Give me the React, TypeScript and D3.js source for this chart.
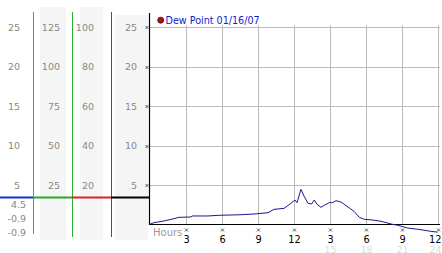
import React from "react";
import * as d3 from "d3";

const hours = [0.02, 0.33, 1.17, 2.0, 2.42, 3.42, 3.5, 4.83, 5.67, 7.58, 8.67, 9.83, 10.33, 11.17, 11.75, 12.08, 12.25, 12.58, 12.83, 13.17, 13.47, 13.69, 13.92, 14.25, 14.53, 14.94, 15.22, 15.5, 15.92, 16.61, 17.03, 17.44, 17.86, 18.56, 19.25, 20.08, 20.64, 21.47, 22.31, 23.42, 23.97];
const dewPoint = [0.13, 0.29, 0.51, 0.8, 0.97, 1.01, 1.14, 1.14, 1.22, 1.3, 1.39, 1.55, 1.98, 2.1, 2.74, 3.16, 2.82, 4.5, 3.66, 2.74, 2.65, 3.16, 2.61, 2.23, 2.49, 2.82, 2.82, 3.07, 2.9, 2.15, 1.69, 0.97, 0.72, 0.63, 0.47, 0.13, -0.04, -0.38, -0.54, -0.8, -0.9];

const yTicks = [25, 20, 15, 10, 5];
const col1Labels = ["25", "20", "15", "10", "5"];
const col2Labels = ["125", "100", "75", "50", "25"];
const col3Labels = ["100", "80", "60", "40", "20"];
const col4Labels = ["25", "20", "15", "10", "5"];
const statLabels = ["4.5", "-0.9", "-0.9"];
const markerValue = 3.57;

const xTicks = [3, 6, 9, 12, 15, 18, 21, 24];
const xLabels = ["3", "6", "9", "12", "3", "6", "9", "12"];
const xSubTicks = [15, 18, 21, 24];
const xSubLabels = ["15", "18", "21", "24"];

const legendLabel = "Dew Point 01/16/07";

const FONT = "'DejaVu Sans', Verdana, sans-serif";

function Cross({ x, y }: { x: number; y: number }) {
  return (
    <g stroke="#333" strokeWidth={0.8}>
      <line x1={x - 1.5} y1={y - 1.5} x2={x + 1.5} y2={y + 1.5} />
      <line x1={x - 1.5} y1={y + 1.5} x2={x + 1.5} y2={y - 1.5} />
    </g>
  );
}

export default function App() {
  const x = d3.scaleLinear().domain([0, 24]).range([150, 438]);
  const y = d3.scaleLinear().domain([0, 25]).range([225, 27]);
  const line = d3
    .line<number>()
    .x((_, i) => x(hours[i]))
    .y((d) => y(d));
  const markY = Math.round(y(markerValue)) + 0.5;
  const labelColor = "#888";
  const lastX = (h: number) => (h === 24 ? 441.5 : x(h) + 0.5);
  const anchor = (h: number) => (h === 24 ? "end" : "middle");

  return (
    <svg
      width={442}
      height={253}
      style={{ position: "fixed", left: 0, top: 0, background: "#fff" }}
      fontFamily={FONT}
    >
      <rect x={0} y={0} width={442} height={253} fill="#fff" />
      {/* gray column backgrounds */}
      <rect x={40} y={7} width={26} height={233} fill="#f5f5f5" />
      <rect x={80} y={7} width={23} height={233} fill="#f5f5f5" />
      <rect x={115} y={15} width={33} height={225} fill="#f5f5f5" />

      {/* column labels */}
      {yTicks.map((v, i) => {
        const by = y(v) + 3.5;
        return (
          <g key={"l" + v} fontSize={9.5} fill={labelColor} textAnchor="end">
            <text x={20} y={by}>{col1Labels[i]}</text>
            <text x={60} y={by}>{col2Labels[i]}</text>
            <text x={94} y={by}>{col3Labels[i]}</text>
            <text x={137} y={by}>{col4Labels[i]}</text>
          </g>
        );
      })}
      {statLabels.map((s, i) => (
        <text key={"s" + i} x={26} y={207.5 + i * 14} fontSize={9.5} fill={labelColor} textAnchor="end">
          {s}
        </text>
      ))}

      {/* vertical colored separators */}
      <line x1={33.5} y1={12} x2={33.5} y2={234} stroke="#2a9fd6" strokeWidth={1} />
      <line x1={72.5} y1={12} x2={72.5} y2={237} stroke="#2fae2f" strokeWidth={1} />
      <line x1={111.5} y1={12} x2={111.5} y2={237} stroke="#c02020" strokeWidth={1} />

      {/* horizontal marker line */}
      <line x1={0} y1={markY} x2={33} y2={markY} stroke="#1133cc" strokeWidth={2} />
      <line x1={33} y1={markY} x2={72} y2={markY} stroke="#22aa22" strokeWidth={2} />
      <line x1={72} y1={markY} x2={111} y2={markY} stroke="#dd2222" strokeWidth={2} />
      <line x1={111} y1={markY} x2={149} y2={markY} stroke="#000" strokeWidth={2} />

      {/* grid */}
      {yTicks.map((v) => (
        <line key={"gy" + v} x1={149} x2={440} y1={Math.round(y(v)) + 0.5} y2={Math.round(y(v)) + 0.5} stroke="#bbb" />
      ))}
      {xTicks.map((h) => (
        <line key={"gx" + h} x1={Math.round(x(h)) + 0.5} x2={Math.round(x(h)) + 0.5} y1={25} y2={225} stroke="#bbb" />
      ))}

      {/* axes */}
      <line x1={149.5} y1={13} x2={149.5} y2={225} stroke="#000" strokeWidth={1.2} />
      <line x1={149} y1={224.5} x2={440} y2={224.5} stroke="#000" strokeWidth={1.2} />

      {/* y tick markers */}
      {yTicks.map((v) => (
        <Cross key={"cy" + v} x={147} y={Math.round(y(v)) + 0.5} />
      ))}

      {/* x ticks */}
      {xTicks.map((h, i) => (
        <g key={"xt" + h}>
          <Cross x={Math.round(x(h)) + 0.5} y={230} />
          <text x={lastX(h)} y={242.5} fontSize={9.8} fill="#000" textAnchor={anchor(h)}>
            {xLabels[i]}
          </text>
        </g>
      ))}
      {xSubTicks.map((h, i) => (
        <text key={"xs" + h} x={lastX(h)} y={252.5} fontSize={9.5} fill="#dcdcdc" textAnchor={anchor(h)}>
          {xSubLabels[i]}
        </text>
      ))}
      <text x={153} y={236} fontSize={10} fill="#999">Hours</text>

      {/* data line */}
      <path d={line(dewPoint) || ""} fill="none" stroke="#1a1a8c" strokeWidth={1} />

      {/* legend */}
      <circle cx={160.7} cy={20.2} r={3} fill="#aa1111" stroke="#550000" strokeWidth={0.8} />
      <text x={165.5} y={23.5} fontSize={9.6} fill="#1122cc">
        {legendLabel}
      </text>
    </svg>
  );
}
